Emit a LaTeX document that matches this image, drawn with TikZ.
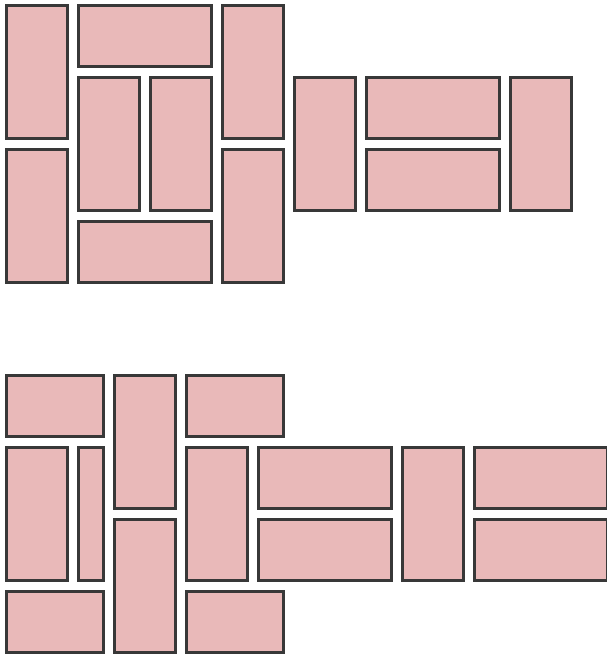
\documentclass[tikz,border=0pt]{standalone}
\definecolor{brickfill}{HTML}{E9B9B9}
\definecolor{brickline}{HTML}{383838}
\tikzset{brick/.style={fill=brickfill,draw=brickline,line width=2.8pt}}
\newcommand\brk[4]{\draw[brick] ({#1+1.5},{#2+1.5}) rectangle ({#3-1.5},{#4-1.5});}
\begin{document}
\begin{tikzpicture}[x=1pt,y=-1pt]
\useasboundingbox (0,0) rectangle (607,658);
\clip (0,0) rectangle (607,658);
% top group
\brk{5}{4}{69}{140}
\brk{5}{148}{69}{284}
\brk{77}{4}{213}{68}
\brk{77}{76}{141}{212}
\brk{149}{76}{213}{212}
\brk{77}{220}{213}{284}
\brk{221}{4}{285}{140}
\brk{221}{148}{285}{284}
\brk{293}{76}{357}{212}
\brk{365}{76}{501}{140}
\brk{365}{148}{501}{212}
\brk{509}{76}{573}{212}
% bottom group
\brk{5}{374}{105}{438}
\brk{113}{374}{177}{510}
\brk{185}{374}{285}{438}
\brk{5}{446}{69}{582}
\brk{77}{446}{105}{582}
\brk{113}{518}{177}{654}
\brk{5}{590}{105}{654}
\brk{185}{590}{285}{654}
\brk{185}{446}{249}{582}
\brk{257}{446}{393}{510}
\brk{257}{518}{393}{582}
\brk{401}{446}{465}{582}
\brk{473}{446}{609}{510}
\brk{473}{518}{609}{582}
\end{tikzpicture}
\end{document}
